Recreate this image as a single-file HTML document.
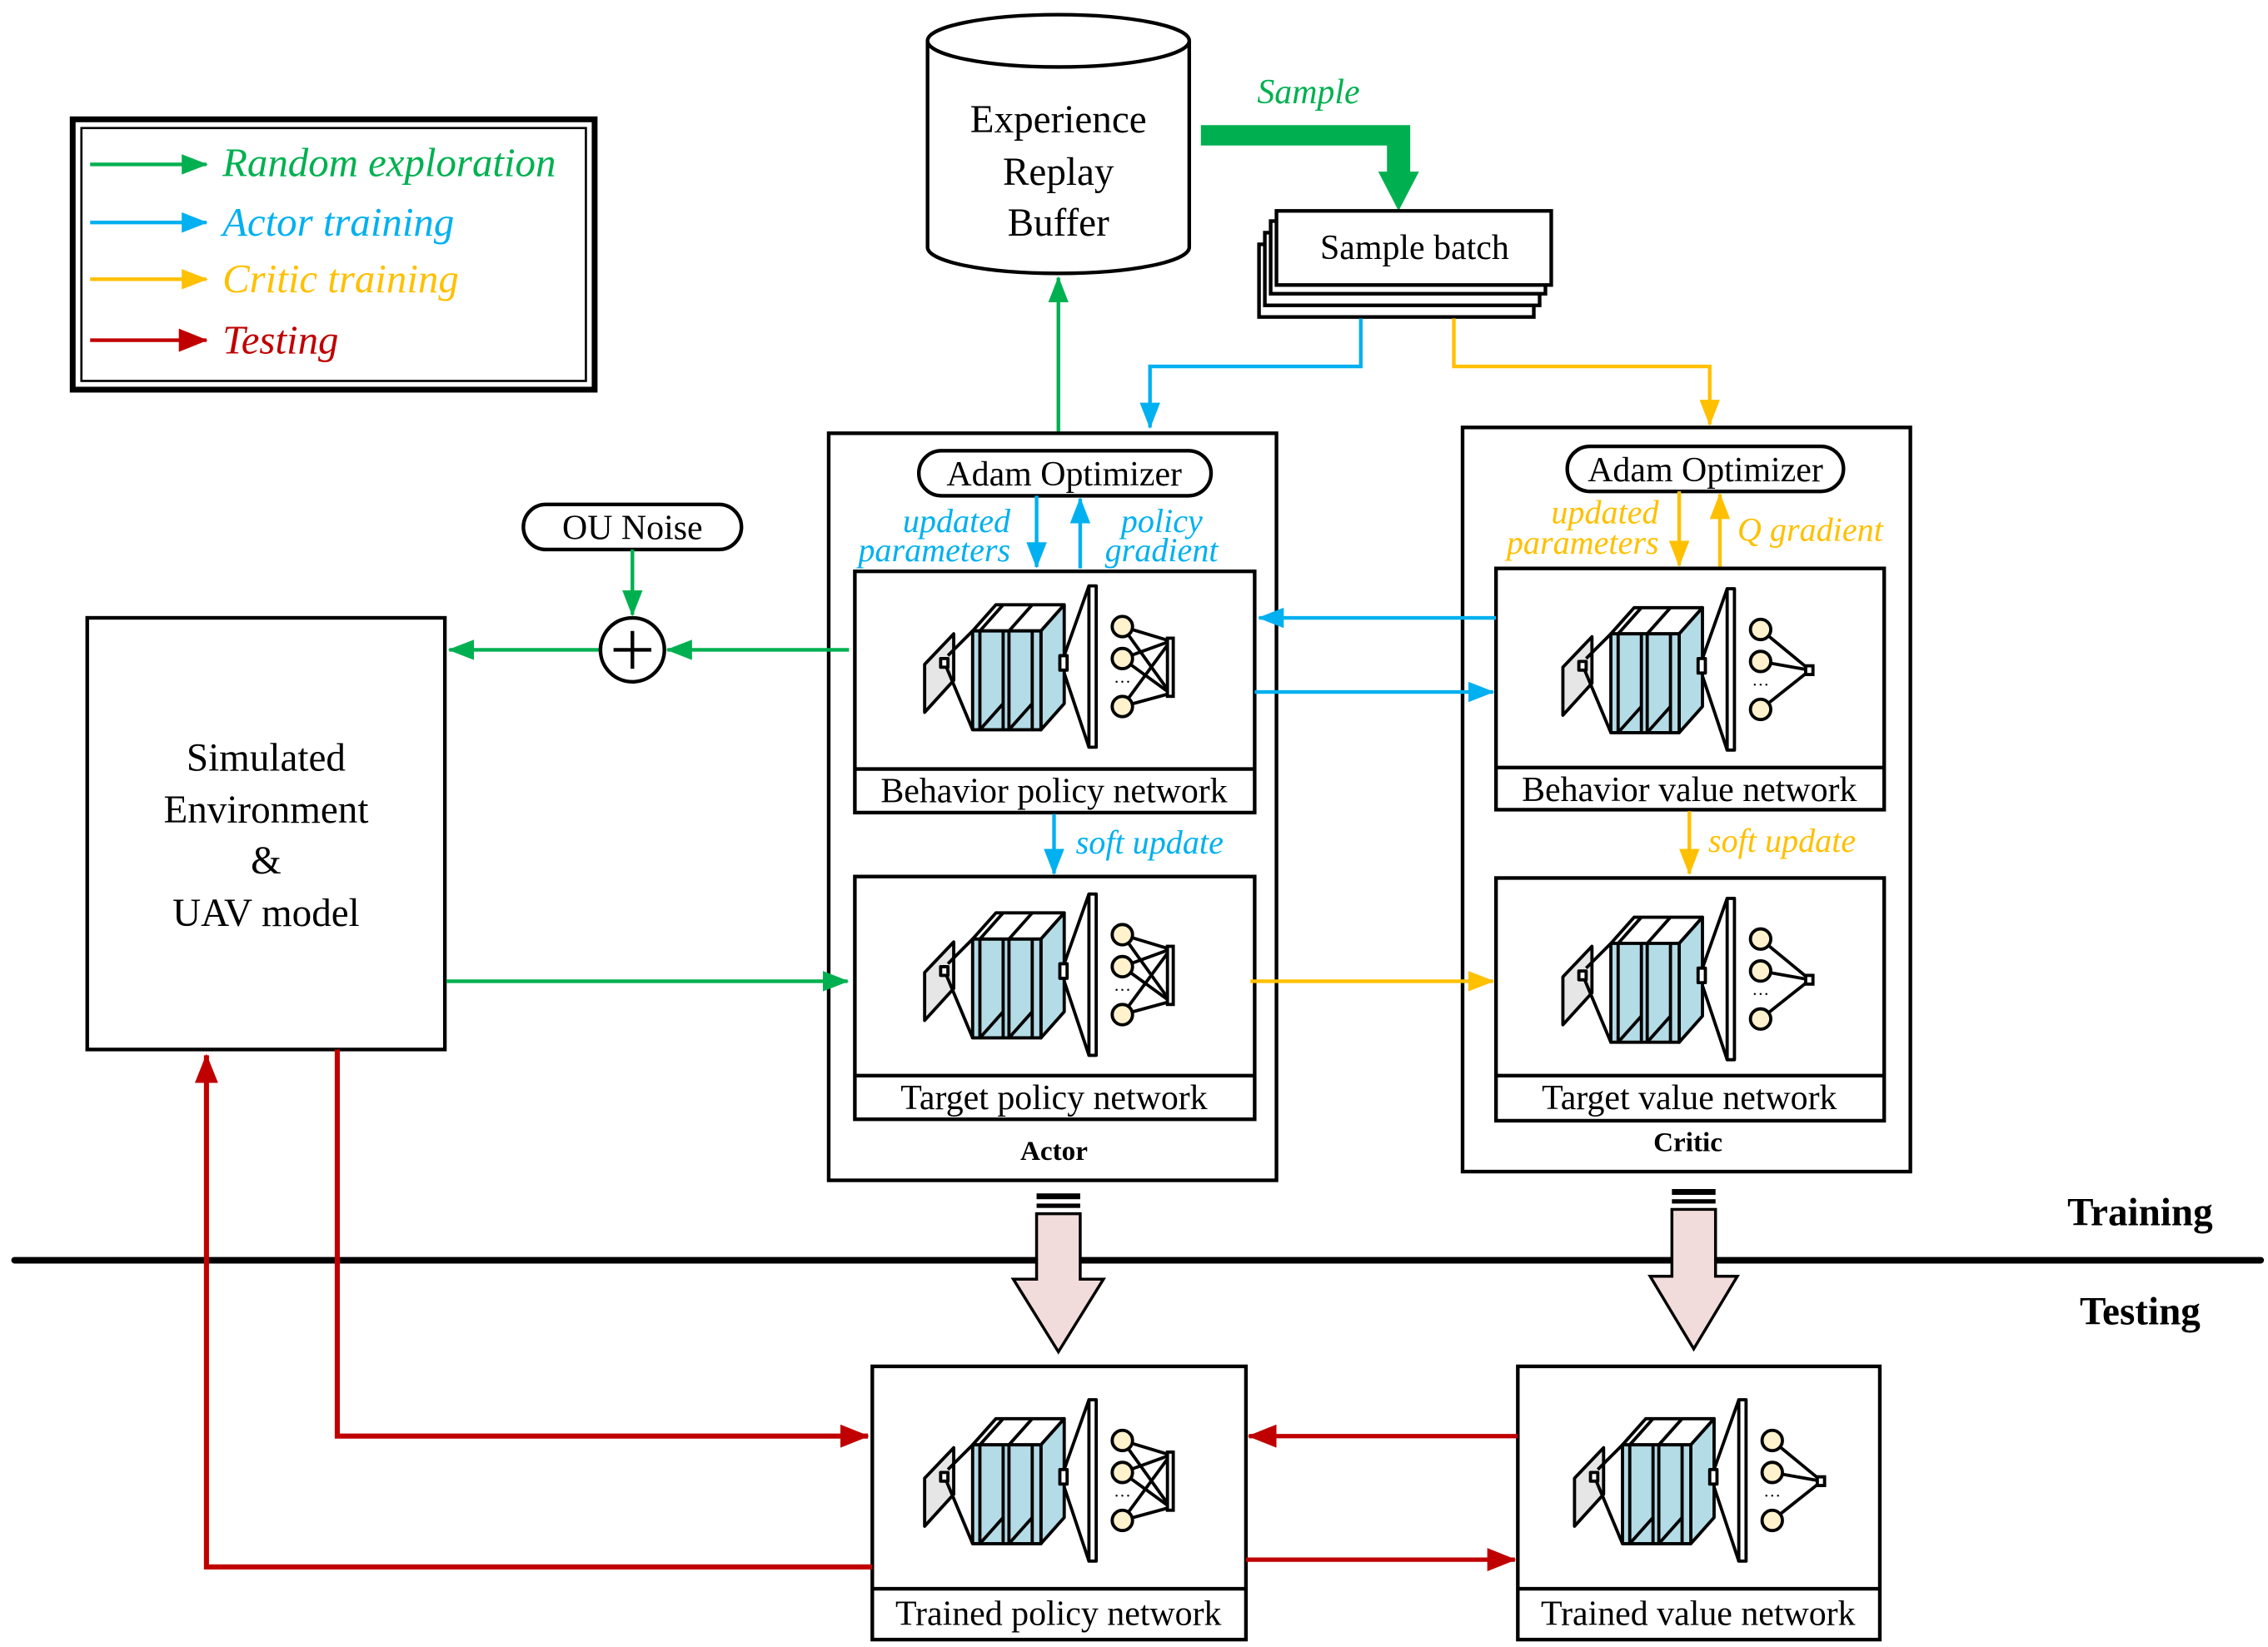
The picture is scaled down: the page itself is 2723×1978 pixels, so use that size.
<!DOCTYPE html>
<html><head><meta charset="utf-8"><style>
html,body{margin:0;padding:0;background:#fff;}
svg{display:block;}
text{font-family:"Liberation Serif","Times New Roman",serif;}
</style></head><body>
<svg width="2723" height="1978" viewBox="0 0 1560 1133" xmlns="http://www.w3.org/2000/svg">
<defs>
<marker id="ag" markerWidth="18" markerHeight="14" refX="17" refY="7" orient="auto" markerUnits="userSpaceOnUse" viewBox="0 0 18 14"><path d="M0,0 L18,7 L0,14 z" fill="#00b050"/></marker>
<marker id="ab" markerWidth="18" markerHeight="14" refX="17" refY="7" orient="auto" markerUnits="userSpaceOnUse" viewBox="0 0 18 14"><path d="M0,0 L18,7 L0,14 z" fill="#00b0f0"/></marker>
<marker id="ao" markerWidth="18" markerHeight="14" refX="17" refY="7" orient="auto" markerUnits="userSpaceOnUse" viewBox="0 0 18 14"><path d="M0,0 L18,7 L0,14 z" fill="#ffc000"/></marker>
<marker id="ar" markerWidth="20" markerHeight="16" refX="19" refY="8" orient="auto" markerUnits="userSpaceOnUse" viewBox="0 0 20 16"><path d="M0,0 L20,8 L0,16 z" fill="#c00000"/></marker>
<g id="cnn" stroke="#000" stroke-width="2.2" stroke-linejoin="round">
  <polygon points="48,64 68,43 68,75 48,97" fill="#e6e6e6"/>
  <rect x="59" y="60" width="5" height="6" fill="#fff"/>
  <line x1="64" y1="58" x2="81" y2="41"/>
  <line x1="63" y1="66" x2="81" y2="109"/>
  <polygon points="81,41 97,23 144,23 128,41" fill="#fff"/>
  <polygon points="128,41 144,23 144,91 128,109" fill="#b4dce6"/>
  <rect x="81" y="41" width="47" height="68" fill="#b4dce6"/>
  <line x1="86" y1="41" x2="86" y2="109"/>
  <line x1="102" y1="41" x2="102" y2="109"/>
  <line x1="106" y1="41" x2="106" y2="109"/>
  <line x1="122" y1="41" x2="122" y2="109"/>
  <line x1="86" y1="41" x2="102" y2="23"/>
  <line x1="106" y1="41" x2="122" y2="23"/>
  <line x1="86" y1="109" x2="102" y2="91"/>
  <line x1="106" y1="109" x2="122" y2="91"/>
  <line x1="144" y1="58" x2="161" y2="10"/>
  <line x1="144" y1="70" x2="161" y2="121"/>
  <rect x="141" y="58" width="5" height="10" fill="#fff"/>
  <rect x="161" y="10" width="5" height="111" fill="#fff"/>
</g>
<g id="fcP" stroke="#000" stroke-width="2.2">
  <line x1="184" y1="38" x2="217" y2="48"/><line x1="184" y1="38" x2="217" y2="84"/>
  <line x1="184" y1="60" x2="217" y2="48"/><line x1="184" y1="60" x2="217" y2="84"/>
  <line x1="184" y1="93" x2="217" y2="48"/><line x1="184" y1="93" x2="217" y2="84"/>
  <rect x="215" y="46" width="4" height="40" fill="#fff"/>
  <circle cx="184" cy="38" r="7" fill="#fff2cc"/><circle cx="184" cy="60" r="7" fill="#fff2cc"/><circle cx="184" cy="93" r="7" fill="#fff2cc"/>
  <text x="184" y="80" font-size="12" text-anchor="middle" stroke="none" fill="#000">···</text>
</g>
<g id="fcV" stroke="#000" stroke-width="2.2">
  <line x1="184" y1="38" x2="218" y2="66"/><line x1="184" y1="60" x2="218" y2="66"/><line x1="184" y1="93" x2="218" y2="66"/>
  <rect x="215" y="63" width="5" height="6" fill="#fff"/>
  <circle cx="184" cy="38" r="7" fill="#fff2cc"/><circle cx="184" cy="60" r="7" fill="#fff2cc"/><circle cx="184" cy="93" r="7" fill="#fff2cc"/>
  <text x="184" y="80" font-size="12" text-anchor="middle" stroke="none" fill="#000">···</text>
</g>
</defs>

<!-- Legend -->
<rect x="50" y="82" width="359" height="186" fill="none" stroke="#000" stroke-width="4"/>
<rect x="56" y="88" width="347" height="174" fill="none" stroke="#000" stroke-width="1.5"/>
<line x1="62" y1="113" x2="142" y2="113" stroke="#00b050" stroke-width="2.5" marker-end="url(#ag)"/>
<line x1="62" y1="153" x2="142" y2="153" stroke="#00b0f0" stroke-width="2.5" marker-end="url(#ab)"/>
<line x1="62" y1="192" x2="142" y2="192" stroke="#ffc000" stroke-width="2.5" marker-end="url(#ao)"/>
<line x1="62" y1="234" x2="142" y2="234" stroke="#c00000" stroke-width="2.5" marker-end="url(#ar)"/>
<g font-size="28" font-style="italic">
<text x="153" y="121" fill="#00b050">Random exploration</text>
<text x="153" y="162" fill="#00b0f0">Actor training</text>
<text x="153" y="201" fill="#ffc000">Critic training</text>
<text x="153" y="243" fill="#c00000">Testing</text>
</g>

<!-- Cylinder -->
<path d="M638,28 L638,170 A90,18 0 0 0 818,170 L818,28" fill="#fff" stroke="#000" stroke-width="2.5"/>
<ellipse cx="728" cy="28" rx="90" ry="18" fill="#fff" stroke="#000" stroke-width="2.5"/>
<g font-size="27" text-anchor="middle">
<text x="728" y="91">Experience</text><text x="728" y="127">Replay</text><text x="728" y="162">Buffer</text>
</g>
<text x="900" y="71" font-size="24" font-style="italic" fill="#00b050" text-anchor="middle">Sample</text>
<path d="M826,86 L970,86 L970,118 L976,118 L962,145 L948,118 L954,118 L954,100 L826,100 z" fill="#00b050"/>
<g fill="#fff" stroke="#000" stroke-width="2.5">
<rect x="866" y="168" width="189" height="50"/>
<rect x="870" y="160" width="189" height="50"/>
<rect x="874" y="152" width="189" height="50"/>
<rect x="878" y="145" width="189" height="51"/>
</g>
<text x="973" y="178" font-size="24" text-anchor="middle">Sample batch</text>
<polyline points="936,219 936,252 791,252 791,294" fill="none" stroke="#00b0f0" stroke-width="2.5" marker-end="url(#ab)"/>
<polyline points="1000,219 1000,252 1176,252 1176,292" fill="none" stroke="#ffc000" stroke-width="2.5" marker-end="url(#ao)"/>
<line x1="728" y1="297" x2="728" y2="191" stroke="#00b050" stroke-width="2.5" marker-end="url(#ag)"/>

<!-- Actor -->
<rect x="570" y="298" width="308" height="514" fill="none" stroke="#000" stroke-width="2.5"/>
<rect x="632" y="310" width="201" height="31" rx="15.5" fill="#fff" stroke="#000" stroke-width="2.5"/>
<text x="732" y="334" font-size="24" text-anchor="middle">Adam Optimizer</text>
<g font-size="23" font-style="italic" fill="#00b0f0">
<text x="695" y="366" text-anchor="end">updated</text><text x="695" y="386" text-anchor="end">parameters</text>
<text x="771" y="366">policy</text><text x="760" y="386">gradient</text>
</g>
<line x1="713" y1="341" x2="713" y2="390" stroke="#00b0f0" stroke-width="2.5" marker-end="url(#ab)"/>
<line x1="743" y1="391" x2="743" y2="343" stroke="#00b0f0" stroke-width="2.5" marker-end="url(#ab)"/>
<rect x="588" y="393" width="275" height="166" fill="#fff" stroke="#000" stroke-width="2.5"/>
<line x1="588" y1="529" x2="863" y2="529" stroke="#000" stroke-width="2.5"/>
<g transform="translate(588,393)"><use href="#cnn"/><use href="#fcP"/></g>
<text x="725" y="552" font-size="24" text-anchor="middle">Behavior policy network</text>
<line x1="725" y1="560" x2="725" y2="601" stroke="#00b0f0" stroke-width="2.5" marker-end="url(#ab)"/>
<text x="740" y="587" font-size="23" font-style="italic" fill="#00b0f0">soft update</text>
<rect x="588" y="603" width="275" height="167" fill="#fff" stroke="#000" stroke-width="2.5"/>
<line x1="588" y1="740" x2="863" y2="740" stroke="#000" stroke-width="2.5"/>
<g transform="translate(588,605)"><use href="#cnn"/><use href="#fcP"/></g>
<text x="725" y="763" font-size="24" text-anchor="middle">Target policy network</text>
<text x="725" y="798" font-size="19" font-weight="bold" text-anchor="middle">Actor</text>

<!-- Critic -->
<rect x="1006" y="294" width="308" height="512" fill="none" stroke="#000" stroke-width="2.5"/>
<rect x="1078" y="307" width="190" height="31" rx="15.5" fill="#fff" stroke="#000" stroke-width="2.5"/>
<text x="1173" y="331" font-size="24" text-anchor="middle">Adam Optimizer</text>
<g font-size="23" font-style="italic" fill="#ffc000">
<text x="1141" y="360" text-anchor="end">updated</text><text x="1141" y="381" text-anchor="end">parameters</text>
<text x="1195" y="372">Q gradient</text>
</g>
<line x1="1155" y1="338" x2="1155" y2="389" stroke="#ffc000" stroke-width="2.5" marker-end="url(#ao)"/>
<line x1="1183" y1="390" x2="1183" y2="340" stroke="#ffc000" stroke-width="2.5" marker-end="url(#ao)"/>
<rect x="1029" y="391" width="267" height="166" fill="#fff" stroke="#000" stroke-width="2.5"/>
<line x1="1029" y1="528" x2="1296" y2="528" stroke="#000" stroke-width="2.5"/>
<g transform="translate(1027,395)"><use href="#cnn"/><use href="#fcV"/></g>
<text x="1162" y="551" font-size="24" text-anchor="middle">Behavior value network</text>
<line x1="1162" y1="558" x2="1162" y2="601" stroke="#ffc000" stroke-width="2.5" marker-end="url(#ao)"/>
<text x="1175" y="586" font-size="23" font-style="italic" fill="#ffc000">soft update</text>
<rect x="1029" y="604" width="267" height="167" fill="#fff" stroke="#000" stroke-width="2.5"/>
<line x1="1029" y1="740" x2="1296" y2="740" stroke="#000" stroke-width="2.5"/>
<g transform="translate(1027,608)"><use href="#cnn"/><use href="#fcV"/></g>
<text x="1162" y="763" font-size="24" text-anchor="middle">Target value network</text>
<text x="1161" y="792" font-size="19" font-weight="bold" text-anchor="middle">Critic</text>

<line x1="1029" y1="425" x2="866" y2="425" stroke="#00b0f0" stroke-width="2.5" marker-end="url(#ab)"/>
<line x1="863" y1="476" x2="1027" y2="476" stroke="#00b0f0" stroke-width="2.5" marker-end="url(#ab)"/>
<line x1="860" y1="675" x2="1027" y2="675" stroke="#ffc000" stroke-width="2.5" marker-end="url(#ao)"/>

<!-- Sim env -->
<rect x="60" y="425" width="246" height="297" fill="#fff" stroke="#000" stroke-width="2.5"/>
<g font-size="27" text-anchor="middle">
<text x="183" y="530">Simulated</text><text x="183" y="566">Environment</text><text x="183" y="601">&amp;</text><text x="183" y="637">UAV model</text>
</g>
<line x1="307" y1="675" x2="583" y2="675" stroke="#00b050" stroke-width="2.5" marker-end="url(#ag)"/>
<line x1="584" y1="447" x2="459" y2="447" stroke="#00b050" stroke-width="2.5" marker-end="url(#ag)"/>
<line x1="412" y1="447" x2="309" y2="447" stroke="#00b050" stroke-width="2.5" marker-end="url(#ag)"/>
<circle cx="435" cy="447" r="22" fill="#fff" stroke="#000" stroke-width="2.5"/>
<line x1="422" y1="447" x2="448" y2="447" stroke="#000" stroke-width="2.5"/>
<line x1="435" y1="434" x2="435" y2="460" stroke="#000" stroke-width="2.5"/>
<rect x="360" y="347" width="150" height="31" rx="15.5" fill="#fff" stroke="#000" stroke-width="2.5"/>
<text x="435" y="371" font-size="24" text-anchor="middle">OU Noise</text>
<line x1="435" y1="378" x2="435" y2="423" stroke="#00b050" stroke-width="2.5" marker-end="url(#ag)"/>

<!-- divider -->
<line x1="10" y1="867" x2="1555" y2="867" stroke="#000" stroke-width="4.5" stroke-linecap="round"/>
<text x="1472" y="843" font-size="27" font-weight="bold" text-anchor="middle">Training</text>
<text x="1472" y="911" font-size="27" font-weight="bold" text-anchor="middle">Testing</text>

<g fill="#f2dcdb" stroke="#000" stroke-width="2">
<path d="M713,835 L743,835 L743,880 L759,880 L728,930 L697,880 L713,880 z"/>
<path d="M1150,832 L1180,832 L1180,878 L1195,878 L1165,928 L1135,878 L1150,878 z"/>
</g>
<rect x="713" y="821" width="30" height="4" fill="#000"/><rect x="713" y="828" width="30" height="3" fill="#000"/>
<rect x="1150" y="818" width="30" height="4" fill="#000"/><rect x="1150" y="825" width="30" height="3" fill="#000"/>

<!-- trained -->
<rect x="600" y="940" width="257" height="188" fill="#fff" stroke="#000" stroke-width="2.5"/>
<line x1="600" y1="1093" x2="857" y2="1093" stroke="#000" stroke-width="2.5"/>
<g transform="translate(588,953)"><use href="#cnn"/><use href="#fcP"/></g>
<text x="728" y="1118" font-size="24" text-anchor="middle">Trained policy network</text>
<rect x="1044" y="940" width="249" height="188" fill="#fff" stroke="#000" stroke-width="2.5"/>
<line x1="1044" y1="1093" x2="1293" y2="1093" stroke="#000" stroke-width="2.5"/>
<g transform="translate(1035,953)"><use href="#cnn"/><use href="#fcV"/></g>
<text x="1168" y="1118" font-size="24" text-anchor="middle">Trained value network</text>

<polyline points="232,722 232,988 597,988" fill="none" stroke="#c00000" stroke-width="3.5" marker-end="url(#ar)"/>
<polyline points="600,1078 142,1078 142,726" fill="none" stroke="#c00000" stroke-width="3.5" marker-end="url(#ar)"/>
<line x1="1044" y1="988" x2="859" y2="988" stroke="#c00000" stroke-width="3" marker-end="url(#ar)"/>
<line x1="857" y1="1073" x2="1042" y2="1073" stroke="#c00000" stroke-width="3" marker-end="url(#ar)"/>
</svg>
</body></html>
